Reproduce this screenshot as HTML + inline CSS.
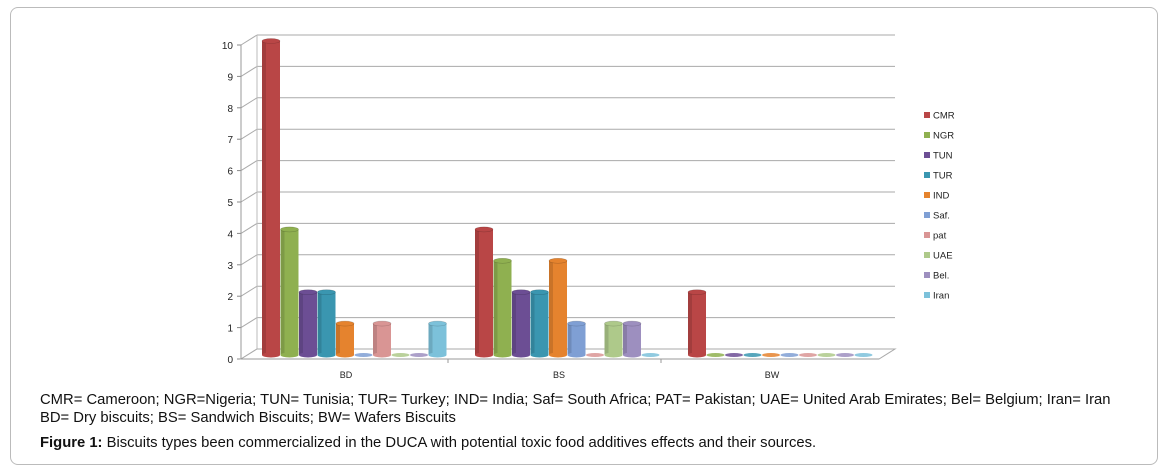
<!DOCTYPE html>
<html><head><meta charset="utf-8"><style>
body{margin:0;background:#fff;width:1166px;height:471px;overflow:hidden;font-family:"Liberation Sans",Arial,sans-serif}
#frame{position:absolute;left:10px;top:7px;width:1146px;height:456px;border:1px solid #bbb;border-radius:8px}
.cap{position:absolute;left:40px;font-size:14.8px;color:#111;white-space:nowrap}
svg text{font-family:"Liberation Sans",Arial,sans-serif}
</style></head><body>
<div id="frame"></div>
<svg id="chart" width="1166" height="390" style="position:absolute;left:0;top:0"></svg>
<div class="cap" style="top:392px">CMR= Cameroon; NGR=Nigeria; TUN= Tunisia; TUR= Turkey; IND= India; Saf= South Africa; PAT= Pakistan; UAE= United Arab Emirates; Bel= Belgium; Iran= Iran</div>
<div class="cap" style="top:410px">BD= Dry biscuits; BS= Sandwich Biscuits; BW= Wafers Biscuits</div>
<div class="cap" style="top:435px"><b>Figure 1:</b> Biscuits types been commercialized in the DUCA with potential toxic food additives effects and their sources.</div>
<script>
const categories=["BD","BS","BW"];
const seriesNames=["CMR","NGR","TUN","TUR","IND","Saf.","pat","UAE","Bel.","Iran"];
const seriesColors=["#b94646","#8fb050","#6c4e94","#3a96b0","#e5832e","#7f9fd4","#d99594","#aec98a","#9d8fbf","#7cc1da"];
const CMR=[10,4,2],NGR=[4,3,0],TUN=[2,2,0],TUR=[2,2,0],IND=[1,3,0],SAF=[0,1,0],PAT=[1,0,0],UAE=[0,1,0],BEL=[0,1,0],IRAN=[1,0,0];
const values=[CMR,NGR,TUN,TUR,IND,SAF,PAT,UAE,BEL,IRAN];
const yTicks=[0,1,2,3,4,5,6,7,8,9,10];
const svg=document.getElementById('chart');
const NS='http://www.w3.org/2000/svg';
function mk(t,a,p){const e=document.createElementNS(NS,t);for(const k in a)e.setAttribute(k,a[k]);(p||svg).appendChild(e);return e;}
const y0=359,unit=31.4,ax=241,dx=16,dy=-10,wallR=895;
function yv(v){return y0-v*unit;}
yTicks.forEach(t=>{
  const g=mk('g',{});
  
  
  mk('line',{x1:ax,y1:yv(t),x2:ax+dx,y2:yv(t)+dy,stroke:'#aaa','stroke-width':1},g);
  mk('line',{x1:ax+dx,y1:yv(t)+dy,x2:wallR,y2:yv(t)+dy,stroke:'#aaa','stroke-width':1},g);
  mk('line',{x1:ax-4,y1:yv(t),x2:ax,y2:yv(t),stroke:'#888'},g);
  const tx=mk('text',{x:ax-8,y:yv(t)+4,'text-anchor':'end','font-size':10,fill:'#222'});
  tx.textContent=t;
  
  
});
mk('line',{x1:ax,y1:yv(0),x2:ax,y2:yv(10),stroke:'#999'});
mk('line',{x1:ax+dx,y1:yv(0)+dy,x2:ax+dx,y2:yv(10)+dy,stroke:'#bbb'});
mk('polygon',{points:`${ax},${y0} ${ax+dx},${y0+dy} ${wallR},${y0+dy} ${wallR-dx},${y0}`,fill:'#fff',stroke:'#aaa'});
mk('line',{x1:ax,y1:y0,x2:wallR-dx,y2:y0,stroke:'#999'});
const groupW=213,gx0=262,bw=18,step=18.5;
categories.forEach((c,ci)=>{
  const tx=mk('text',{x:gx0+ci*groupW+84,y:378,'text-anchor':'middle','font-size':9,fill:'#222'});
  tx.textContent=c;
  
  
  if(ci>0){mk('line',{x1:gx0+ci*groupW-27,y1:y0,x2:gx0+ci*groupW-27,y2:y0+4,stroke:'#999'});}
  values.forEach((s,si)=>{
    const v=s[ci],x=gx0+ci*groupW+si*step,bot=y0-4,top=bot-v*unit,col=seriesColors[si];
    const g=mk('g',{});
    
    
    if(v>0){
      mk('rect',{x:x,y:top,width:bw,height:bot-top,fill:col},g);
      mk('rect',{x:x,y:top,width:4,height:bot-top,fill:'#000',opacity:0.12},g);
      mk('ellipse',{cx:x+bw/2,cy:bot,rx:bw/2,ry:2.5,fill:col},g);
      mk('ellipse',{cx:x+bw/2,cy:top,rx:bw/2,ry:2.5,fill:col,stroke:'#000','stroke-opacity':0.2,'stroke-width':0.6},g);
    }else{
      mk('ellipse',{cx:x+bw/2,cy:bot,rx:bw/2,ry:2,fill:col,opacity:0.85},g);
    }
  });
});
seriesNames.forEach((n,i)=>{
  const g=mk('g',{});
  
  
  const y=112+i*20;
  mk('rect',{x:924,y:y,width:6,height:6,fill:seriesColors[i]},g);
  const t=mk('text',{x:933,y:y+6.5,'font-size':9.5,fill:'#222'},g);
  t.textContent=n;
});
</script>
</body></html>
